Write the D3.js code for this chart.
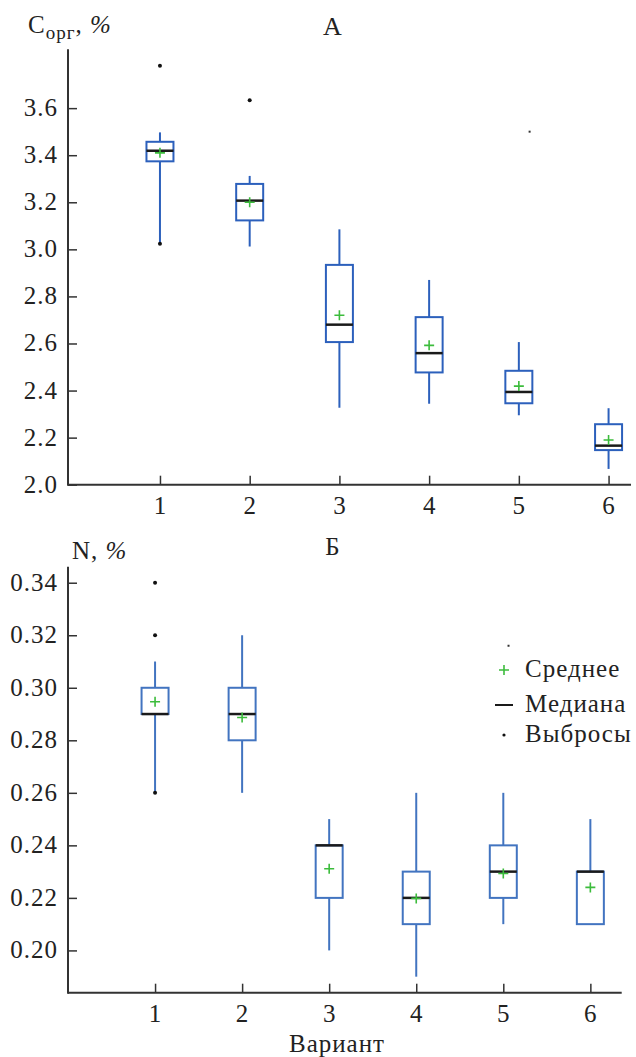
<!doctype html>
<html lang="ru">
  <head>
    <meta charset="UTF-8" />
    <title>Сорг и N по вариантам</title>
    <style>
      body { margin: 0; background: #fff; }
      svg text { letter-spacing: 1px; }
    </style>
  </head>
  <body>
    <div id="target"></div>
    <script src="https://d3js.org/d3.v7.min.js"></script>
    <script>
      /* global d3 */

      const variants = [1, 2, 3, 4, 5, 6];

      // panel A: organic carbon, %
      const cWhiskLo = [3.024, 3.012, 2.327, 2.344, 2.295, 2.067];
      const cQ1 = [3.374, 3.123, 2.606, 2.477, 2.346, 2.147];
      const cMedian = [3.419, 3.207, 2.68, 2.559, 2.394, 2.166];
      const cQ3 = [3.457, 3.278, 2.934, 2.712, 2.484, 2.257];
      const cWhiskHi = [3.497, 3.312, 3.085, 2.87, 2.606, 2.325];
      const cMean = [3.41, 3.2, 2.72, 2.592, 2.419, 2.19];
      const cOutliers = [[1, 3.78], [1, 3.024], [2, 3.634]];
      const cStray = [[5.12, 3.5]];
      const cTicks = [2.0, 2.2, 2.4, 2.6, 2.8, 3.0, 3.2, 3.4, 3.6];

      // panel Б: nitrogen, %
      const nWhiskLo = [0.26, 0.26, 0.2, 0.19, 0.21, 0.21];
      const nQ1 = [0.29, 0.28, 0.22, 0.21, 0.22, 0.21];
      const nMedian = [0.29, 0.29, 0.24, 0.22, 0.23, 0.23];
      const nQ3 = [0.3, 0.3, 0.24, 0.23, 0.24, 0.23];
      const nWhiskHi = [0.31, 0.32, 0.25, 0.26, 0.26, 0.25];
      const nMean = [0.2947, 0.2887, 0.2311, 0.2198, 0.2293, 0.224];
      const nOutliers = [[1, 0.34], [1, 0.32], [1, 0.26]];
      const nStray = [[5.06, 0.316]];
      const nTicks = [0.2, 0.22, 0.24, 0.26, 0.28, 0.3, 0.32, 0.34];

      const legendLabels = ["Среднее", "Медиана", "Выбросы"];

      const width = 636,
        height = 1057,
        boxW = 27,
        fs = 25,
        green = "#3cbc3c",
        axisColor = "#333",
        serif = "'Liberation Serif', 'Times New Roman', Times, serif";

      const svg = d3
        .select("#target")
        .append("svg")
        .attr("width", width)
        .attr("height", height)
        .attr("viewBox", [0, 0, width, height])
        .style("font-family", serif);

      function panel(opt) {
        const x = d3.scaleLinear().domain(opt.xDomain).range([68, opt.xRight]);
        const y = d3.scaleLinear().domain(opt.yDomain).range([opt.yBottom, opt.yTop]);
        const g = svg.append("g");
        const blue = opt.color;

        const rows = variants.map((v, i) => ({
          v,
          lo: opt.lo[i],
          q1: opt.q1[i],
          med: opt.med[i],
          q3: opt.q3[i],
          hi: opt.hi[i],
          mean: opt.mean[i],
        }));

        // whiskers
        g.selectAll("line.whisk")
          .data(rows)
          .join("line")
          .attr("x1", (d) => x(d.v))
          .attr("x2", (d) => x(d.v))
          .attr("y1", (d) => y(d.lo))
          .attr("y2", (d) => y(d.hi))
          .attr("stroke", blue)
          .attr("stroke-width", 2);

        // boxes
        g.selectAll("rect.box")
          .data(rows)
          .join("rect")
          .attr("x", (d) => x(d.v) - boxW / 2)
          .attr("y", (d) => y(d.q3))
          .attr("width", boxW)
          .attr("height", (d) => Math.max(0, y(d.q1) - y(d.q3)))
          .attr("fill", "#fff")
          .attr("stroke", blue)
          .attr("stroke-width", 2);

        // medians
        g.selectAll("line.med")
          .data(rows)
          .join("line")
          .attr("x1", (d) => x(d.v) - boxW / 2)
          .attr("x2", (d) => x(d.v) + boxW / 2)
          .attr("y1", (d) => y(d.med))
          .attr("y2", (d) => y(d.med))
          .attr("stroke", "#1a1a1a")
          .attr("stroke-width", 2.5);

        // means
        g.selectAll("path.mean")
          .data(rows)
          .join("path")
          .attr("d", (d) => {
            const cx = x(d.v), cy = y(d.mean);
            return `M${cx - 5},${cy}H${cx + 5}M${cx},${cy - 5}V${cy + 5}`;
          })
          .attr("stroke", green)
          .attr("stroke-width", 1.6);

        // outliers
        g.selectAll("circle.out")
          .data(opt.outliers)
          .join("circle")
          .attr("cx", (d) => x(d[0]))
          .attr("cy", (d) => y(d[1]))
          .attr("r", 2)
          .attr("fill", "#111");

        g.selectAll("rect.stray")
          .data(opt.stray)
          .join("rect")
          .attr("x", (d) => x(d[0]) - 1)
          .attr("y", (d) => y(d[1]) - 1)
          .attr("width", 2)
          .attr("height", 2)
          .attr("fill", "#333");

        // axes
        const ax = g.append("g").attr("transform", `translate(0,${opt.yBottom})`);
        ax.call(d3.axisBottom(x).tickValues(variants).tickFormat(d3.format("d")).tickSize(0).tickPadding(0))
          .call((s) => s.select(".domain").remove());
        ax.attr("font-family", null).attr("font-size", null);
        ax.selectAll(".tick line").remove();
        ax.selectAll(".tick").append("line").attr("y1", 0).attr("y2", -9)
          .attr("stroke", axisColor).attr("stroke-width", 1.5);
        ax.selectAll(".tick text")
          .attr("y", 29).attr("dy", 0)
          .style("font-size", fs + "px")
          .style("font-family", serif)
          .attr("fill", "#222");
        ax.append("line").attr("x1", 68).attr("x2", opt.xRight)
          .attr("stroke", axisColor).attr("stroke-width", 2);

        const ay = g.append("g").attr("transform", "translate(68,0)");
        ay.call(d3.axisLeft(y).tickValues(opt.ticks).tickFormat(opt.fmt).tickSize(0).tickPadding(0))
          .call((s) => s.select(".domain").remove());
        ay.attr("font-family", null).attr("font-size", null);
        ay.selectAll(".tick line").remove();
        ay.selectAll(".tick").append("line").attr("x1", 0).attr("x2", 9)
          .attr("stroke", axisColor).attr("stroke-width", 1.5);
        ay.selectAll(".tick text")
          .attr("x", -10).attr("dy", "0.3em")
          .style("font-size", fs + "px")
          .style("font-family", serif)
          .attr("fill", "#222");
        ay.append("line").attr("y1", opt.yTop).attr("y2", opt.yBottom + 1)
          .attr("stroke", axisColor).attr("stroke-width", 2);

        return g;
      }

      panel({
        xDomain: [-0.025, 6.25], xRight: 631,
        yDomain: [2.0, 3.85], yBottom: 484.7, yTop: 49.3, color: "#2c60bc",
        lo: cWhiskLo, q1: cQ1, med: cMedian, q3: cQ3, hi: cWhiskHi, mean: cMean,
        outliers: cOutliers, stray: cStray, ticks: cTicks, fmt: d3.format(".1f"),
      });

      panel({
        xDomain: [0, 6.36], xRight: 621.7,
        yDomain: [0.1839, 0.3461], yBottom: 992.7, yTop: 566.7, color: "#4274c0",
        lo: nWhiskLo, q1: nQ1, med: nMedian, q3: nQ3, hi: nWhiskHi, mean: nMean,
        outliers: nOutliers, stray: nStray, ticks: nTicks, fmt: d3.format(".2f"),
      });

      const txt = (x, y, size) =>
        svg.append("text").attr("x", x).attr("y", y)
          .style("font-size", size + "px").style("font-family", serif).attr("fill", "#222");

      // titles and axis names
      const t1 = txt(28, 33, fs);
      t1.append("tspan").text("C");
      t1.append("tspan").attr("dy", 6).style("font-size", "19px").text("орг");
      t1.append("tspan").attr("dy", -6).text(", ");
      t1.append("tspan").style("font-style", "italic").text("%");

      txt(333, 35, 26).attr("text-anchor", "middle").text("А");

      const t2 = txt(72, 559, fs);
      t2.append("tspan").text("N, ");
      t2.append("tspan").style("font-style", "italic").text("%");

      txt(333, 555, fs).attr("text-anchor", "middle").text("Б");

      txt(337, 1052, fs).attr("text-anchor", "middle").text("Вариант");

      // legend
      const lg = svg.append("g").attr("transform", "translate(504,0)");
      const rowsY = [670, 705, 735];
      lg.append("path").attr("d", `M-5,${rowsY[0]}H5M0,${rowsY[0] - 5}V${rowsY[0] + 5}`)
        .attr("stroke", green).attr("stroke-width", 1.6);
      lg.append("line").attr("x1", -9).attr("x2", 9).attr("y1", rowsY[1]).attr("y2", rowsY[1])
        .attr("stroke", "#1a1a1a").attr("stroke-width", 2);
      lg.append("circle").attr("cx", 0).attr("cy", rowsY[2]).attr("r", 1.6).attr("fill", "#111");
      lg.selectAll("text.leg")
        .data(legendLabels)
        .join("text")
        .attr("x", 21)
        .attr("y", (d, i) => rowsY[i] + 7)
        .style("font-size", fs + "px")
        .style("font-family", serif)
        .attr("fill", "#222")
        .text((d) => d);
    </script>
  </body>
</html>
